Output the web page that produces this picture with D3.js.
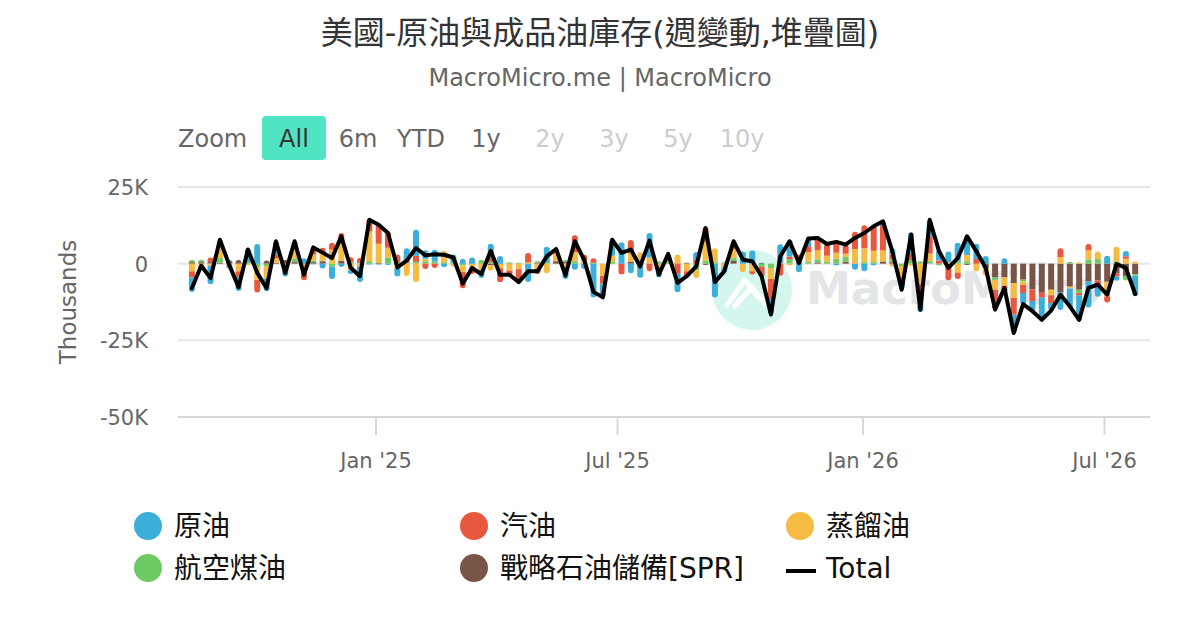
<!DOCTYPE html>
<html>
<head>
<meta charset="utf-8">
<script src="https://cdn.jsdelivr.net/npm/d3@7"></script>
<style>
  body { margin: 0; background: #fff; }
  svg text { font-family: "DejaVu Sans", "Noto Sans CJK TC", sans-serif; }
</style>
</head>
<body>
<div id="chart"></div>
<script>
// Weekly change, thousand barrels (values in K)
const firstWeek = new Date(2024, 7, 16);

const crude = [
  -4.7, -0.5, -6.0, 0, -1.0, -4.6, 4.5, 6.4, -4.2, 4.3,
  -3.5, 0.6, 1.8, -0.2, -1.6, -4, -1.1, -1.2, -5.0, -0.3,
  -0.3, -0.4, -2.7, 4, 8.5, 2.8, 3.7, -1.2, 2.5, 1.5,
  2, -2.7, 4.5, 2.5, 0, 0, -6.0, 0, 5.0, 0,
  -4.0, -2.0, -1.7, -11, -4.5, 5.2, 7.0, -3.1, -4.6, 8.0,
  -3.4, 2.5, -6, 0, 2.6, 0, -11, -1.5, 0, 4.0,
  4.3, 0, -5.1, 6, 5.5, -2.8, 2.5, 0, 0, -0.5,
  0, -2.0, -2.5, -0.5, 1.5, 2.0, -3.2, 7, -6.8, 5.5,
  3.5, 3.5, 6.0, 6.5, 5.0, 2.5, 0, 1.8, -6.0, -3.6,
  -3.3, -7.2, -2.5, -5.8, -6.4, -8.4, -8.5, -3.7, 2.6, -1.4,
  1.7, -6.7
];
const gasoline = [
  -2, -0.5, 1.5, 2, 0, -1.8, 0, -4.1, 0, 1.2,
  0, 1.5, -3.9, 2.5, 2, 2.3, 3, 1.5, 1.6, 4,
  6.5, 5.2, 2.5, 0.5, 2, -1.7, -1.4, 0, 0, -5.4,
  -1.9, 0, 1.5, -4.6, -1.9, -4.5, 3.0, -1.6, 0, 1.5,
  0, 5.5, 2.0, 1.5, -2.5, 0, -3.5, 4.0, 0, -2.5,
  0, 0, -3.3, -1.9, 1.2, 5, 0, 0, 2.5, 0,
  -1.0, -3.4, -6.5, -3.9, 0.8, 2.0, 2, 4, 3.8, 4,
  3, 5.6, 7.5, 8.5, 8, 1.5, 0, 2, -2.5, 5.5,
  1.0, -5.4, -2.0, 0, 1.5, 0, -6.5, -2.5, -5.4, -2.7,
  -3.8, -1.6, -2.5, 2.8, 0, -0.8, 2, -1.6, -2.0, -1.0,
  0.8, 0
];
const distillate = [
  -2.5, -1.0, -0.7, 4, -0.6, -2.5, -0.4, -4.0, -4, 1.5,
  -0.7, 3.5, -1.5, 2, 2.2, 4.5, 6, -2.2, -1.0, 9.8,
  6.3, 3.2, -1.5, -4, -6, 0.8, 0, 3.6, -1.0, -2,
  -1.5, -2, -1.8, -1.5, -2.2, -1.8, 0.5, -1.8, -3.1, 2.5,
  -1.0, 3, 1.0, 0, -4, 2.0, 0, 3.0, 3.2, 2.0,
  -1.0, 0, 3, -2.5, -2.5, 6, 4.5, -1.5, 3, -2.7,
  -2.5, 0, -3.5, 0, -0.5, 0.5, 3, 3, 2.0, 2,
  1.0, 4.8, 4.5, 3.7, 3.6, -1.0, -4.5, -0.7, -6.5, 2.5,
  0, 0.5, -3.0, 2.0, -2.5, -2.4, -3.2, -2.7, -4.9, -1.1,
  0, 0, -1.8, 2.2, -0.6, 0.5, 3, 2.5, -4.8, 4.7,
  1.6, 0.7
];
const jetFuel = [
  0.7, 0.8, 0, 1.5, 0.4, 0, 0.5, -1.3, -0.8, 0,
  0, 1.2, 0, 0.5, 0.2, -1, 0, 0.6, 0.3, 0.8,
  0, 2.0, 0.5, 0.5, 0.6, 0.8, 0.8, 0.5, 0.5, -0.6,
  0, 1.3, 0.5, 0, 0.5, 0.3, 0, 0.6, 0.5, 0,
  0.5, 0.8, 0, 0.3, 0, 0.6, 0, 0, 0.5, 0,
  0.8, 0.7, 0, 0, -2.2, 1.0, 0.5, 0.5, 0.8, 0,
  0, -1.0, -1.5, 0.3, 1.5, 0, 0.7, 1, 0.6, 1.6,
  1.6, 0, 0.5, 0.5, 0, 1.0, -0.8, 1.2, 0.8, 0.8,
  -0.5, 0, 0.8, 0.8, 0, 0, -0.8, 0, 0, -0.6,
  0, 0, 0, 0, 0.6, -1.1, 1.4, 1.5, 0, 0.8,
  -1.5, -0.5
];
const spr = [
  0.5, 0.5, 0.5, 0.3, 0.8, 1.2, 0, 0, 1.0, 0.3,
  1.2, 0.5, 0, 0.5, 0.8, 0, 1, 0, 0, 0,
  0.2, 0, 0, 0, 0, 0, 0, 0, 0, 0,
  0, 0, -0.5, 0, 0, 0, 0, 0.3, 0, 0.8,
  0.7, 0, 0, 0, 0, 0, 0, 0.7, 0, 0,
  0, 0, 0, 0.3, 0, -0.4, 0, 0, 1, 0,
  0, 0.3, 0, 0, 0, 0.5, 0, 0.4, 0, 0,
  0.6, 0, 0, 0, 0.7, 0.5, 0, 0, 0, 0,
  0, 0, 0, -0.4, 0, -1.5, -4.5, -4.5, -6.3, -5.2,
  -8.4, -9.5, -8.5, -9.3, -7.5, -8.5, -5.8, -5.5, -5.9, -3.2,
  -4.0, -3.4
];
const total = [
  -8.0, -0.7, -4.7, 7.8, -0.4, -7.7, 4.6, -3.0, -8.0, 7.3,
  -3.0, 7.3, -3.6, 5.3, 3.6, 1.8, 8.9, -1.3, -4.1, 14.3,
  12.7, 10.0, -1.2, 1.0, 5.1, 2.7, 3.1, 2.9, 2.0, -6.5,
  -1.4, -3.4, 4.2, -3.6, -3.6, -6.0, -2.5, -2.5, 2.4, 4.8,
  -3.8, 7.3, 1.3, -9.2, -11.0, 7.8, 3.5, 4.6, -0.9, 7.5,
  -3.6, 3.2, -6.3, -4.1, -0.9, 11.6, -6.0, -2.5, 7.3, 1.3,
  0.8, -4.1, -16.6, 2.4, 7.3, 0.2, 8.2, 8.4, 6.4, 7.1,
  6.2, 8.4, 10.0, 12.2, 13.8, 4.0, -8.5, 9.5, -15.0, 14.3,
  4.0, -1.4, 1.8, 8.9, 4.0, -1.4, -15.0, -7.9, -22.6, -13.2,
  -15.5, -18.3, -15.3, -10.1, -13.9, -18.3, -7.9, -6.8, -10.1, -0.1,
  -1.4, -9.9
];

const seriesNames = ["原油", "汽油", "蒸餾油", "航空煤油", "戰略石油儲備[SPR]"];
const seriesValues = [crude, gasoline, distillate, jetFuel, spr];
const colors = ["#3BAFDA", "#E9573F", "#F6BB42", "#70CA63", "#795548"];

const yTicks = [25, 0, -25, -50];
const xTickDates = [new Date(2025, 0, 1), new Date(2025, 6, 1), new Date(2026, 0, 1), new Date(2026, 6, 1)];
const xTickLabels = ["Jan '25", "Jul '25", "Jan '26", "Jul '26"];
const zoomButtons = ["All", "6m", "YTD", "1y", "2y", "3y", "5y", "10y"];

const weeks = crude.map((_, i) => d3.timeWeek.offset(firstWeek, i));

const W = 1200, H = 630;
const plotLeft = 178, plotRight = 1150, plotTop = 187, plotBottom = 417;

const svg = d3.select("#chart").append("svg")
    .attr("width", W)
    .attr("height", H);

// scales
const x = d3.scaleTime()
    .domain([new Date(2025, 0, 1), new Date(2026, 0, 1)])
    .range([376, 863]);
const y = d3.scaleLinear()
    .domain([-50, 25])
    .range([plotBottom, plotTop]);

// title
svg.append("text")
    .attr("x", W / 2).attr("y", 44)
    .attr("text-anchor", "middle")
    .attr("font-size", 32).attr("fill", "#333")
    .text("美國-原油與成品油庫存(週變動,堆疊圖)");
svg.append("text")
    .attr("x", W / 2).attr("y", 86)
    .attr("text-anchor", "middle")
    .attr("font-size", 24).attr("fill", "#666")
    .text("MacroMicro.me | MacroMicro");

// range selector
svg.append("text")
    .attr("x", 178).attr("y", 147)
    .attr("font-size", 24).attr("fill", "#666")
    .text("Zoom");
const btnX = [294, 358, 421, 486, 550, 614, 678, 742];
zoomButtons.forEach((b, i) => {
    if (i === 0) {
        svg.append("rect")
            .attr("x", btnX[i] - 32).attr("y", 116)
            .attr("width", 64).attr("height", 44)
            .attr("rx", 4).attr("fill", "#50E3C2");
    }
    svg.append("text")
        .attr("x", btnX[i]).attr("y", 147)
        .attr("text-anchor", "middle")
        .attr("font-size", 24)
        .attr("fill", i === 0 ? "#333" : (i < 4 ? "#666" : "#ccc"))
        .text(b);
});

// gridlines
svg.append("g").selectAll("line")
    .data(yTicks)
    .join("line")
    .attr("x1", plotLeft).attr("x2", plotRight)
    .attr("y1", d => y(d)).attr("y2", d => y(d))
    .attr("stroke", "#e6e6e6").attr("stroke-width", 2);

// y axis labels
svg.append("g").selectAll("text")
    .data(yTicks)
    .join("text")
    .attr("x", 148).attr("y", d => y(d) + 8)
    .attr("text-anchor", "end")
    .attr("font-size", 21).attr("fill", "#666")
    .text(d => d === 0 ? "0" : d + "K");

svg.append("text")
    .attr("transform", `translate(76,${(plotTop + plotBottom) / 2}) rotate(-90)`)
    .attr("text-anchor", "middle")
    .attr("font-size", 23).attr("fill", "#666")
    .text("Thousands");

// watermark
const wm = svg.append("g");
wm.append("circle")
    .attr("cx", 752).attr("cy", 290).attr("r", 40)
    .attr("fill", "#d4f6ee");
wm.append("path")
    .attr("d", "M727,305 L745,280 L757,296 M735,306 L752,287 L764,303 L772,292")
    .attr("fill", "none").attr("stroke", "#fff")
    .attr("stroke-width", 5).attr("stroke-linecap", "round").attr("stroke-linejoin", "round");
wm.append("text")
    .attr("x", 806).attr("y", 304)
    .attr("font-size", 45).attr("font-weight", "bold")
    .attr("fill", "#e4e5e7")
    .text("MacroMicro");

// x axis
svg.append("line")
    .attr("x1", plotLeft).attr("x2", plotRight)
    .attr("y1", plotBottom).attr("y2", plotBottom)
    .attr("stroke", "#d8d8d8").attr("stroke-width", 2);
const xAxis = svg.append("g");
xAxis.selectAll("line")
    .data(xTickDates)
    .join("line")
    .attr("x1", d => x(d)).attr("x2", d => x(d))
    .attr("y1", plotBottom).attr("y2", plotBottom + 18)
    .attr("stroke", "#d8d8d8").attr("stroke-width", 2);
xAxis.selectAll("text")
    .data(xTickDates)
    .join("text")
    .attr("x", d => x(d)).attr("y", 468)
    .attr("text-anchor", "middle")
    .attr("font-size", 21).attr("fill", "#666")
    .text((d, i) => xTickLabels[i]);

// stacked bars: last series nearest zero, first series outermost
const barW = 6;
const segs = [];
weeks.forEach((wk, i) => {
    let pos = 0, neg = 0;
    const list = [];
    for (let s = seriesValues.length - 1; s >= 0; s--) {
        const v = seriesValues[s][i];
        if (!v) continue;
        if (v > 0) { list.push({ s, i, y0: pos, y1: pos + v, up: true }); pos += v; }
        else { list.push({ s, i, y0: neg, y1: neg + v, up: false }); neg += v; }
    }
    const lastUp = list.filter(d => d.up).pop();
    const lastDown = list.filter(d => !d.up).pop();
    list.forEach(d => { d.cap = (d === lastUp || d === lastDown); });
    segs.push(...list);
});

function segPath(d) {
    const x0 = x(weeks[d.i]) - barW / 2, x1 = x0 + barW;
    const rx = barW / 2;
    if (d.up) {
        const top = y(d.y1), bot = y(d.y0);
        if (!d.cap) return `M${x0},${top}H${x1}V${bot}H${x0}Z`;
        const ry = Math.min(rx, bot - top);
        return `M${x0},${bot}V${top + ry}A${rx},${ry} 0 0 1 ${x0 + rx},${top}A${rx},${ry} 0 0 1 ${x1},${top + ry}V${bot}Z`;
    } else {
        const top = y(d.y0), bot = y(d.y1);
        if (!d.cap) return `M${x0},${top}H${x1}V${bot}H${x0}Z`;
        const ry = Math.min(rx, bot - top);
        return `M${x0},${top}H${x1}V${bot - ry}A${rx},${ry} 0 0 1 ${x0 + rx},${bot}A${rx},${ry} 0 0 1 ${x0},${bot - ry}Z`;
    }
}

svg.append("g").selectAll("path")
    .data(segs)
    .join("path")
    .attr("d", segPath)
    .attr("fill", d => colors[d.s]);

// total line
const line = d3.line()
    .x((d, i) => x(weeks[i]))
    .y(d => y(d));
svg.append("path")
    .datum(total)
    .attr("d", line)
    .attr("fill", "none")
    .attr("stroke", "#000")
    .attr("stroke-width", 4)
    .attr("stroke-linejoin", "round")
    .attr("stroke-linecap", "round");

// legend
const legendItems = [
    { name: seriesNames[0], color: colors[0], x: 148, y: 526 },
    { name: seriesNames[1], color: colors[1], x: 474, y: 526 },
    { name: seriesNames[2], color: colors[2], x: 800, y: 526 },
    { name: seriesNames[3], color: colors[3], x: 148, y: 568 },
    { name: seriesNames[4], color: colors[4], x: 474, y: 568 },
    { name: "Total", color: "#000", x: 800, y: 568, line: true }
];
const lg = svg.append("g").selectAll("g")
    .data(legendItems)
    .join("g");
lg.filter(d => !d.line).append("circle")
    .attr("cx", d => d.x).attr("cy", d => d.y).attr("r", 14)
    .attr("fill", d => d.color);
lg.filter(d => d.line).append("line")
    .attr("x1", d => d.x - 14).attr("x2", d => d.x + 16)
    .attr("y1", d => d.y + 3).attr("y2", d => d.y + 3)
    .attr("stroke", "#000").attr("stroke-width", 4);
lg.append("text")
    .attr("x", d => d.x + 26).attr("y", d => d.y + 10)
    .attr("font-size", 28).attr("fill", "#111")
    .text(d => d.name);
</script>
</body>
</html>
